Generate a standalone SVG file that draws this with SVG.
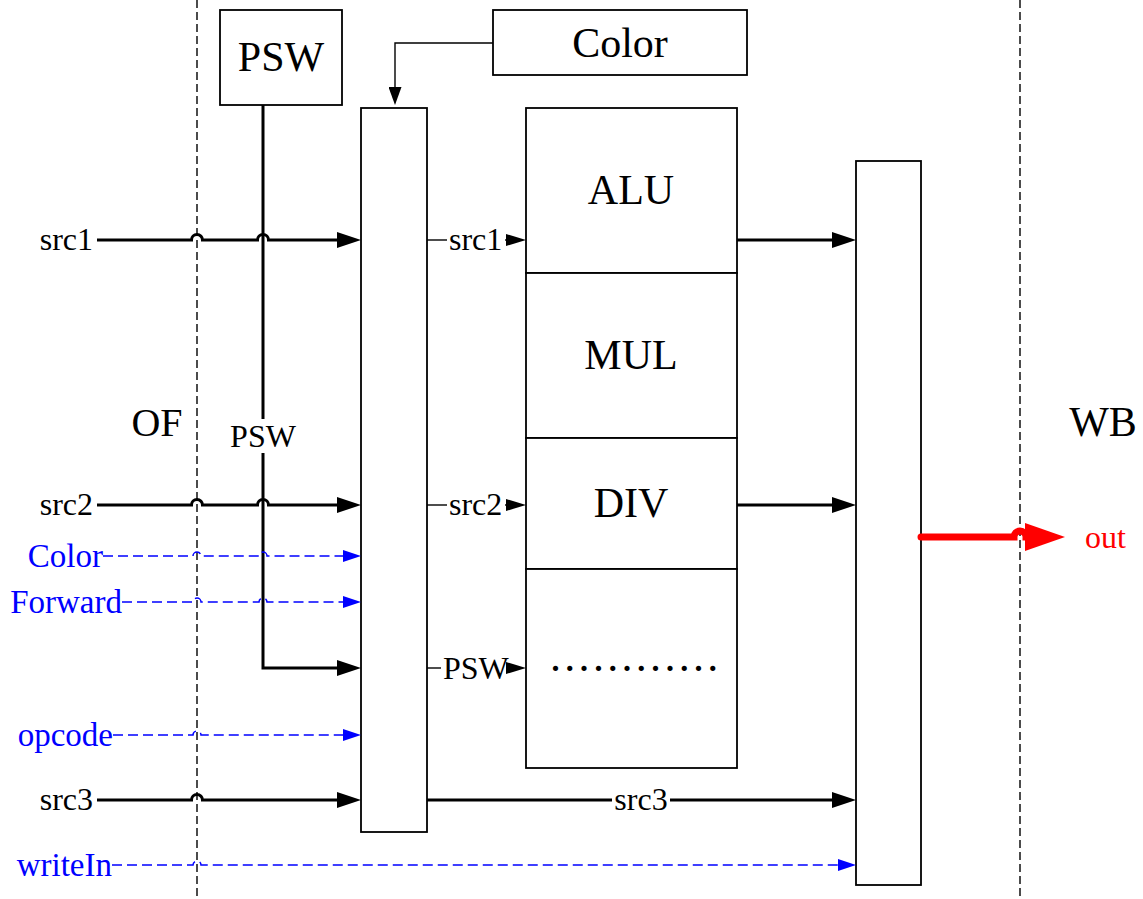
<svg xmlns="http://www.w3.org/2000/svg" width="1143" height="899" viewBox="0 0 1143 899">
<style>
text{font-family:"Liberation Serif","Times New Roman",serif;fill:#000}
.big{font-size:42px;text-anchor:middle}
.lbl{font-size:32px}
.end{text-anchor:end}
.mid{text-anchor:middle}
.blue{fill:#0000FF;font-size:33px}
.box{fill:#fff;stroke:#000;stroke-width:1.8}
.stage{stroke:#000;stroke-width:1.4;stroke-dasharray:8,4;fill:none}
.bk{stroke:#000;stroke-width:3;fill:none}
.thin{stroke:#000;stroke-width:1.4;fill:none}
.bl{stroke:#0000FF;stroke-width:1.5;stroke-dasharray:10,5;fill:none}
.red{stroke:#FF0000;stroke-width:7;fill:none;stroke-linecap:round}
</style>
<defs>
<marker id="ab" markerUnits="userSpaceOnUse" markerWidth="24" markerHeight="16" refX="12" refY="8" orient="auto"><path d="M0,0L24,8L0,16z" fill="#000"/></marker>
<marker id="as" markerUnits="userSpaceOnUse" markerWidth="20" markerHeight="12" refX="10" refY="6" orient="auto"><path d="M0,0L20,6L0,12z" fill="#000"/></marker>
<marker id="at" markerUnits="userSpaceOnUse" markerWidth="18" markerHeight="13" refX="9" refY="6.5" orient="auto"><path d="M0,0L18,6.5L0,13z" fill="#000"/></marker>
<marker id="au" markerUnits="userSpaceOnUse" markerWidth="18" markerHeight="12" refX="9" refY="6" orient="auto"><path d="M0,0L18,6L0,12z" fill="#0000FF"/></marker>
<marker id="ar" markerUnits="userSpaceOnUse" markerWidth="40" markerHeight="28" refX="12" refY="14" orient="auto"><path d="M0,0L40,14L0,28z" fill="#FF0000"/></marker>
</defs>
<rect width="1143" height="899" fill="#fff"/>

<g id="stages">
<line class="stage" x1="197" y1="0" x2="197" y2="899"/>
<line class="stage" x1="1020" y1="0" x2="1020" y2="899"/>
<text class="big" x="157" y="436" style="font-size:40px">OF</text>
<text class="big" x="1103" y="436">WB</text>
</g>

<g id="psw"><rect class="box" x="220" y="10" width="122" height="95"/><text class="big" x="281" y="71">PSW</text></g>
<g id="color"><rect class="box" x="493" y="10" width="254" height="65"/><text class="big" x="620" y="57">Color</text></g>
<g id="mux1"><rect class="box" x="361" y="108" width="66" height="724"/></g>
<g id="fu">
<rect class="box" x="526" y="108" width="211" height="165"/>
<rect class="box" x="526" y="273" width="211" height="165"/>
<rect class="box" x="526" y="438" width="211" height="131"/>
<rect class="box" x="526" y="569" width="211" height="199"/>
<text class="big" x="631" y="204">ALU</text>
<text class="big" x="631" y="369">MUL</text>
<text class="big" x="631" y="517">DIV</text>
<text x="550" y="671" style="font-size:44px;letter-spacing:3.3px">............</text>
</g>
<g id="mux2"><rect class="box" x="856" y="161" width="65" height="724"/></g>

<g id="connectors">
<path class="thin" d="M493,43H395V96" marker-end="url(#at)"/>
<path class="bk" d="M263,105V668H349" marker-end="url(#ab)"/>
<path class="bk" d="M97,240H191.5A5.5,5.5 0 0 1 202.5,240H257.5A5.5,5.5 0 0 1 268.5,240H349" marker-end="url(#ab)"/>
<path class="bk" d="M97,505H191.5A5.5,5.5 0 0 1 202.5,505H257.5A5.5,5.5 0 0 1 268.5,505H349" marker-end="url(#ab)"/>
<path class="bk" d="M97,800H191.5A5.5,5.5 0 0 1 202.5,800H349" marker-end="url(#ab)"/>
<path class="bl" d="M103,556H193A4,4 0 0 1 201,556H259A4,4 0 0 1 267,556H352" marker-end="url(#au)"/>
<path class="bl" d="M122,602H193A4,4 0 0 1 201,602H259A4,4 0 0 1 267,602H352" marker-end="url(#au)"/>
<path class="bl" d="M113,735H193A4,4 0 0 1 201,735H352" marker-end="url(#au)"/>
<path class="bl" d="M112,865H193A4,4 0 0 1 201,865H847" marker-end="url(#au)"/>
<path class="thin" d="M427,240H447"/><path class="thin" d="M505,240H516" marker-end="url(#as)"/>
<path class="thin" d="M427,505H447"/><path class="thin" d="M505,505H516" marker-end="url(#as)"/>
<path class="thin" d="M427,668H441"/><path class="thin" d="M510,668H516" marker-end="url(#as)"/>
<path class="bk" d="M737,240H844" marker-end="url(#ab)"/>
<path class="bk" d="M737,505H844" marker-end="url(#ab)"/>
<path class="bk" d="M427,800H612M670,800H844" marker-end="url(#ab)"/>
<path class="red" d="M921,537H1014A6,6 0 0 1 1026,537H1037" marker-end="url(#ar)"/>
<rect x="226" y="419" width="74" height="34" fill="#fff"/>
<text class="lbl mid" x="263" y="447">PSW</text>
<text class="lbl" x="449" y="250">src1</text>
<text class="lbl" x="449" y="515">src2</text>
<text class="lbl" x="443" y="679">PSW</text>
<text class="lbl mid" x="641" y="810">src3</text>
</g>

<g id="inputs">
<text class="lbl end" x="93" y="250">src1</text>
<text class="lbl end" x="93" y="515">src2</text>
<text class="lbl end blue" x="103" y="567">Color</text>
<text class="lbl end blue" x="122" y="613">Forward</text>
<text class="lbl end blue" x="113" y="746">opcode</text>
<text class="lbl end" x="93" y="810">src3</text>
<text class="lbl end blue" x="112" y="876">writeIn</text>
<text class="lbl" x="1085" y="548" style="fill:#FF0000">out</text>
</g>
</svg>
